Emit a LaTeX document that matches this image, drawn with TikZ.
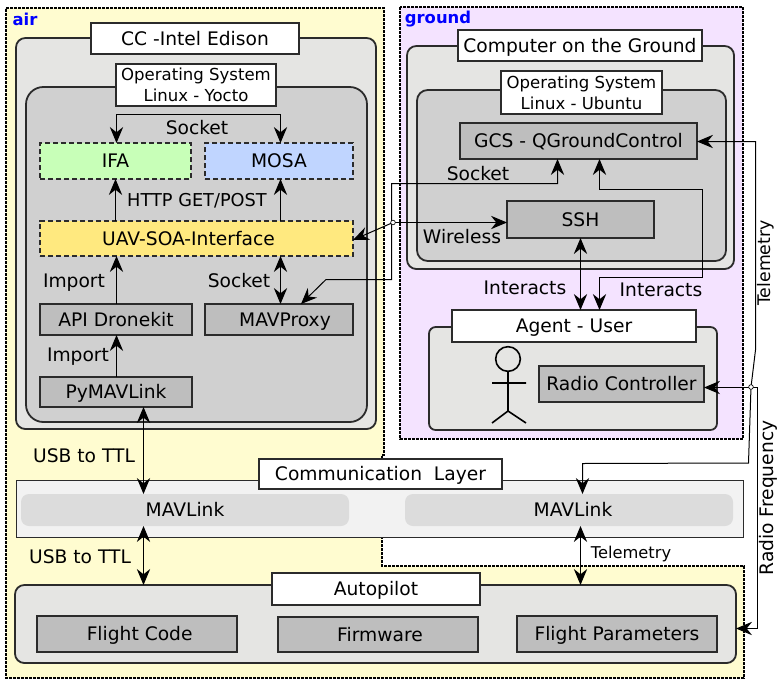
\documentclass[tikz,border=0pt]{standalone}
\usepackage{fontspec}
\setmainfont{DejaVu Sans}
\usetikzlibrary{arrows.meta}
\definecolor{airc}{HTML}{FFFCD0}
\definecolor{grc}{HTML}{F4E3FF}
\definecolor{outerc}{HTML}{E5E5E3}
\definecolor{innerc}{HTML}{D0D0D0}
\definecolor{grayb}{HTML}{BEBEBE}
\definecolor{edgec}{HTML}{2B2B2B}
\definecolor{commc}{HTML}{F2F2F2}
\definecolor{mavc}{HTML}{DCDCDC}
\definecolor{ifac}{HTML}{C8FFB8}
\definecolor{mosac}{HTML}{C0D5FF}
\definecolor{uavc}{HTML}{FFE97F}
\newcommand{\st}{\rule[-3pt]{0pt}{16pt}}
\tikzset{
  >={Stealth[length=12pt,width=10pt,inset=4pt]},
  bxbase/.style={draw=edgec,line width=1.35pt,inner sep=0pt,outer sep=0pt,align=center,font=\fontsize{14}{16}\selectfont},
  titlebox/.style={bxbase,fill=white,execute at begin node=\st},
  ostitle/.style={bxbase,fill=white,font=\fontsize{12.4}{15.6}\selectfont},
  graybox/.style={bxbase,fill=grayb,execute at begin node=\st},
  dashbox/.style={bxbase,dash pattern=on 4pt off 2pt,execute at begin node=\st},
  outerbox/.style={bxbase,fill=outerc,rounded corners=7pt},
  innerbox/.style={bxbase,fill=innerc,rounded corners=13pt},
  mavbox/.style={inner sep=0pt,outer sep=0pt,fill=mavc,rounded corners=6pt,font=\fontsize{14}{16}\selectfont,execute at begin node=\st},
  conn/.style={draw=black,line width=0.75pt},
  lbl/.style={inner sep=0pt,font=\fontsize{14}{16}\selectfont,execute at begin node=\st},
  smalllbl/.style={inner sep=0pt,font=\fontsize{13}{15}\selectfont},
  zone/.style={draw=black,line width=1.1pt,dash pattern=on 2pt off 1pt},
  zonelbl/.style={inner sep=0pt,text=blue,font=\bfseries\fontsize{12.3}{14}\selectfont},
}
\newcommand{\bx}[7]{\node[#1,minimum width={(#5-#3)*0.75pt},minimum height={(#6-#4)*0.75pt}] (#2) at ({(#3+#5)/2},{(#4+#6)/2}) {#7};}
\begin{document}
\begin{tikzpicture}[x=0.75pt,y=-0.75pt]
\useasboundingbox (0,0) rectangle (778,682);
% zones
\draw[zone,fill=airc] (6,8) -- (384,8) -- (384,455) -- (382,455) -- (382,566) -- (744,566) -- (744,678) -- (6,678) -- cycle;
\draw[zone,fill=grc] (400,7) rectangle (743,439);
\node[zonelbl] (airlbl) at (25,19) {air};
\node[zonelbl] (groundlbl) at (438,19.5) {ground};
% air
\bx{outerbox}{cc}{16}{38}{376}{429}{}
\bx{titlebox}{cct}{91}{23}{299}{54}{CC -Intel Edison}
\bx{innerbox}{os}{26}{87}{367}{422}{}
\bx{ostitle}{ost}{116}{64}{276}{106}{Operating System\\Linux - Yocto}
\bx{dashbox,fill=ifac}{ifa}{40}{143}{191}{179}{IFA}
\bx{dashbox,fill=mosac}{mosa}{205}{143}{353}{179}{MOSA}
\bx{dashbox,fill=uavc}{uav}{40}{221}{353}{256}{UAV-SOA-Interface\hspace{12pt}}
\bx{graybox}{api}{40}{304}{192}{335}{API Dronekit}
\bx{graybox}{proxy}{205}{304}{353}{335}{\hspace{9pt}MAVProxy}
\bx{graybox}{py}{40}{377}{192}{407}{PyMAVLink}
% ground
\bx{outerbox}{pc}{407}{46}{734}{269}{}
\bx{titlebox}{pct}{458}{30}{702}{61}{Computer on the Ground}
\bx{bxbase,fill=innerc,rounded corners=8pt}{gos}{417}{90}{726}{261}{}
\bx{ostitle}{gost}{501}{71}{662}{114}{Operating System\\Linux - Ubuntu}
\bx{graybox}{gcs}{460}{123}{697}{159}{GCS - QGroundControl}
\bx{graybox}{ssh}{507}{201}{654}{238}{SSH}
\bx{bxbase,fill=outerc,rounded corners=5pt}{agent}{429}{327}{717}{430}{}
\bx{titlebox}{agentt}{452}{310}{696}{342}{Agent - User}
\bx{graybox}{radio}{539}{366}{704}{402}{Radio Controller}
% actor
\node[draw=black,line width=1.2pt,circle,minimum size=18.5pt,inner sep=0pt,outer sep=0pt] (head) at (508,359) {};
\coordinate (hip) at (508,411);
\coordinate (armL) at (492,383);
\coordinate (armR) at (526,383);
\coordinate (legL) at (492,423);
\coordinate (legR) at (526,423);
\draw[line width=1.2pt] (head.south) -- (hip) (armL) -- (armR) (legL) -- (hip) -- (legR);
% comm layer
\bx{bxbase,fill=commc,line width=0.6pt}{comm}{16}{480}{743}{537}{}
\bx{mavbox}{mavl}{21}{494}{349}{526}{MAVLink}
\bx{mavbox}{mavr}{405}{494}{733}{526}{\hspace{6pt}MAVLink}
\bx{titlebox}{commt}{259}{459}{502}{489}{Communication\ \ Layer}
% autopilot
\bx{outerbox}{auto}{15}{585}{736}{663}{}
\bx{titlebox}{autot}{272}{573}{480}{605}{Autopilot}
\bx{graybox}{fcode}{37}{616}{237}{652}{\hspace{4pt}Flight Code}
\bx{graybox}{firm}{278}{617}{478}{652}{\hspace{3pt}Firmware}
\bx{graybox}{fparam}{517}{616}{717}{652}{Flight Parameters}
% connectors
\coordinate (sockL) at (116.5,114.5);
\coordinate (sockR) at (280.5,114.5);
\draw[conn,<->] (116.5,0 |- ifa.north) -- (sockL) -- (sockR) -- (280.5,0 |- mosa.north);
\draw[conn,->] (115.5,0 |- uav.north) -- (115.5,0 |- ifa.south);
\draw[conn,->] (280.5,0 |- uav.north) -- (280.5,0 |- mosa.south);
\draw[conn,->] (116.5,0 |- api.north) -- (116.5,0 |- uav.south);
\draw[conn,->] (116.5,0 |- py.north) -- (116.5,0 |- api.south);
\draw[conn,<->] (280.5,0 |- uav.south) -- (280.5,0 |- proxy.north);
\draw[conn,<->] (143.5,0 |- py.south) -- (143.5,0 |- mavl.north);
\draw[conn,<->] (143.5,0 |- mavl.south) -- (143.5,0 |- auto.north);
\draw[conn,<->] (580.5,0 |- mavr.south) -- (580.5,0 |- auto.north);
% wireless
\coordinate (wj) at (393,222.5);
\coordinate (s1) at (557.5,183.5);
\coordinate (s2) at (391.5,183.5);
\coordinate (s3) at (391.5,279.5);
\coordinate (s4) at (326,279.5);
\draw[conn,<->] (557.5,0 |- gcs.south) -- (s1) -- (s2) -- (s3) -- (s4) -- (301,0 |- proxy.north);
\draw[conn,->] (wj) -- (ssh.west |- wj);
\draw[conn,->] (wj) -- (uav.east |- 0,240);
\node[draw=black,line width=0.5pt,fill=white,circle,minimum size=3.5pt,inner sep=0pt] (wjc) at (wj) {};
% GCS - agent
\coordinate (g1) at (599.5,189.5);
\coordinate (g2) at (702.5,189.5);
\coordinate (g3) at (702.5,277.5);
\coordinate (g4) at (599.5,277.5);
\draw[conn,<->] (599.5,0 |- gcs.south) -- (g1) -- (g2) -- (g3) -- (g4) -- (599.5,0 |- agentt.north);
\draw[conn,<->] (580.5,0 |- ssh.south) -- (580.5,0 |- agentt.north);
% telemetry / RF
\coordinate (t1) at (755.5,141.5);
\coordinate (t2) at (755.5,350);
\coordinate (t3) at (751,387);
\coordinate (t4) at (748.5,463);
\coordinate (t5) at (582.5,463.5);
\draw[conn,<->] (gcs.east |- t1) -- (t1) -- (t2) -- (t3) -- (t4) -- (t5) -- (582.5,0 |- mavr.north);
\coordinate (r1) at (757.5,387.5);
\coordinate (r2) at (757.5,628.5);
\draw[conn,->] (r1) -- (r2) -- (auto.east |- r2);
\draw[conn,->] (r1) -- (radio.east |- r1);
\node[draw=black,line width=0.5pt,fill=white,circle,minimum size=3.5pt,inner sep=0pt] (tjc) at (t3) {};
% labels
\node[lbl] (l1) at (197,128) {Socket};
\node[lbl,font=\fontsize{13.3}{16}\selectfont] (l2) at (197,200) {HTTP GET/POST};
\node[lbl] (l3) at (74,281) {Import};
\node[lbl] (l4) at (239,281) {Socket};
\node[lbl] (l5) at (78,355) {Import};
\node[lbl] (l6) at (84,456) {USB to TTL};
\node[lbl] (l7) at (80,557) {USB to TTL};
\node[lbl] (l8) at (525,288) {Interacts};
\node[lbl] (l9) at (661,290) {Interacts};
\node[lbl] (l10) at (462,237) {Wireless};
\node[lbl] (l11) at (478,174) {Socket};
\node[smalllbl,rotate=90] (l12) at (766,263) {Telemetry};
\node[lbl,rotate=90] (l13) at (767,498) {Radio Frequency};
\node[smalllbl,font=\fontsize{12.2}{15}\selectfont] (l14) at (631,554) {Telemetry};
\end{tikzpicture}
\end{document}
